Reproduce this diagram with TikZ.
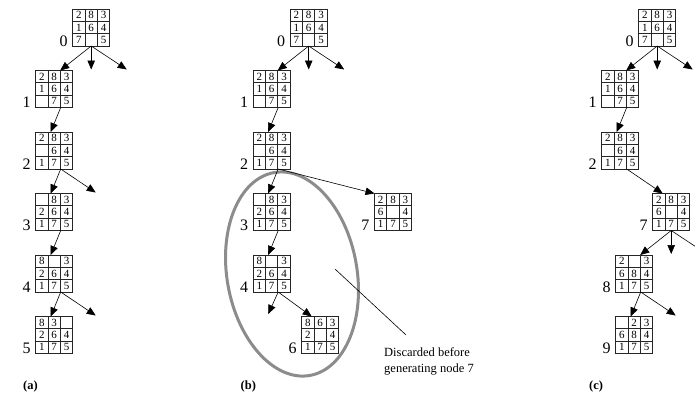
\documentclass[tikz,border=0pt]{standalone}
\usepackage{fontspec}
\setmainfont{Liberation Serif}
\usetikzlibrary{arrows.meta,calc}
\tikzset{
  puz/.style={draw=black!85, line width=0.8pt, minimum width=37pt, minimum height=37pt,
    inner sep=0pt, outer sep=0pt, anchor=north west},
  gridln/.style={draw=black!85, line width=0.8pt},
  cellnum/.style={font=\fontsize{11}{12}\selectfont, inner sep=0pt},
  lab/.style={font=\fontsize{16}{18}\selectfont, inner sep=0pt, anchor=base east},
  arr/.style={line width=0.6pt, -{Triangle[length=9pt,width=7.5pt]}},
  sublab/.style={font=\bfseries\fontsize{12.5}{14}\selectfont, inner sep=0pt, anchor=base west},
  disctext/.style={font=\fontsize{12.5}{14}\selectfont, inner sep=0pt, anchor=base west},
  discell/.style={draw=black!45, line width=3pt},
  pointer/.style={line width=0.6pt}
}
% #1 name, #2 left, #3 top, #4 cell list, #5 label
\newcommand\puzzle[5]{%
  \node[puz] (#1) at (#2,#3) {};
  \draw[gridln] ($(#1.north west)+(12.333,0)$) -- ($(#1.south west)+(12.333,0)$);
  \draw[gridln] ($(#1.north west)+(24.667,0)$) -- ($(#1.south west)+(24.667,0)$);
  \draw[gridln] ($(#1.north west)+(0,12.333)$) -- ($(#1.north east)+(0,12.333)$);
  \draw[gridln] ($(#1.north west)+(0,24.667)$) -- ($(#1.north east)+(0,24.667)$);
  \foreach \v [count=\i from 0] in {#4} {
    \pgfmathtruncatemacro\prow{\i/3}
    \pgfmathtruncatemacro\pcol{mod(\i,3)}
    \node[cellnum] (#1-\i) at ($(#1.north west)+(6.1667+12.333*\pcol,6.1667+12.333*\prow)$) {\v};
  }
  \node[lab] (#1-lab) at ($(#1.south west)+(-5,0)$) {#5};
}
% down-left connector from parent to child
\newcommand\dleft[2]{\draw[arr] ($(#1.south west)+(25,0)$) -- ($(#2.north west)+(15,0)$);}
\begin{document}
\begin{tikzpicture}[x=1pt,y=1pt,yscale=-1]
\useasboundingbox (0,0) rectangle (695,407);
\clip (0,0) rectangle (695,407);

% ---------------- (a)
\puzzle{n0a}{72.7}{9}{2,8,3,1,6,4,7,{},5}{0}
\puzzle{n1a}{35.7}{70.5}{2,8,3,1,6,4,{},7,5}{1}
\puzzle{n2a}{35.7}{132}{2,8,3,{},6,4,1,7,5}{2}
\puzzle{n3a}{35.7}{193.5}{{},8,3,2,6,4,1,7,5}{3}
\puzzle{n4a}{35.7}{255}{8,{},3,2,6,4,1,7,5}{4}
\puzzle{n5a}{35.7}{316.5}{8,3,{},2,6,4,1,7,5}{5}
\coordinate (m0a) at ($(n0a.south)+(0,23.5)$);
\coordinate (r0a) at ($(n0a.south)+(35.5,23.5)$);
\draw[arr] (n0a.south) -- ($(n1a.north west)+(24.5,0)$);
\draw[arr] (n0a.south) -- (m0a);
\draw[arr] (n0a.south) -- (r0a);
\dleft{n1a}{n2a}
\dleft{n2a}{n3a}
\coordinate (r2a) at ($(n2a.south west)+(60,23.5)$);
\draw[arr] ($(n2a.south west)+(25,0)$) -- (r2a);
\dleft{n3a}{n4a}
\dleft{n4a}{n5a}
\coordinate (r4a) at ($(n4a.south west)+(60,23.5)$);
\draw[arr] ($(n4a.south west)+(25,0)$) -- (r4a);
\node[sublab] (suba) at (23,389) {(a)};

% ---------------- (b)
\begin{scope}[shift={(292,274)},rotate=-10]
  \draw[discell] (0,0) ellipse [x radius=65pt, y radius=103pt];
\end{scope}
\puzzle{n0b}{290.2}{9}{2,8,3,1,6,4,7,{},5}{0}
\puzzle{n1b}{253.2}{70.5}{2,8,3,1,6,4,{},7,5}{1}
\puzzle{n2b}{253.2}{132}{2,8,3,{},6,4,1,7,5}{2}
\puzzle{n3b}{253.2}{193.5}{{},8,3,2,6,4,1,7,5}{3}
\puzzle{n4b}{253.2}{255}{8,{},3,2,6,4,1,7,5}{4}
\puzzle{n7b}{374.5}{193.5}{2,8,3,6,{},4,1,7,5}{7}
\puzzle{n6b}{301.7}{316.5}{8,6,3,2,{},4,1,7,5}{6}
\coordinate (m0b) at ($(n0b.south)+(0,23.5)$);
\coordinate (r0b) at ($(n0b.south)+(35.5,23.5)$);
\draw[arr] (n0b.south) -- ($(n1b.north west)+(24.5,0)$);
\draw[arr] (n0b.south) -- (m0b);
\draw[arr] (n0b.south) -- (r0b);
\dleft{n1b}{n2b}
\dleft{n2b}{n3b}
\draw[arr] ($(n2b.south west)+(25,0)$) -- (n7b.north west);
\dleft{n3b}{n4b}
\coordinate (l4b) at ($(n4b.south west)+(15,22)$);
\draw[arr] ($(n4b.south west)+(25,0)$) -- (l4b);
\draw[arr] ($(n4b.south west)+(25,0)$) -- ($(n6b.north west)+(10,0)$);
\node[disctext] (disc1) at (384,356) {Discarded before};
\node[disctext] (disc2) at (384,372) {generating node 7};
\coordinate (pin) at (335,269);
\coordinate (pout) at (406,335);
\draw[pointer] (pin) -- (pout);
\node[sublab] (subb) at (240.5,389) {(b)};

% ---------------- (c)
\puzzle{n0c}{638.7}{9}{2,8,3,1,6,4,7,{},5}{0}
\puzzle{n1c}{601.7}{70.5}{2,8,3,1,6,4,{},7,5}{1}
\puzzle{n2c}{601.7}{132}{2,8,3,{},6,4,1,7,5}{2}
\puzzle{n7c}{652.7}{193.5}{2,8,3,6,{},4,1,7,5}{7}
\puzzle{n8c}{615.7}{255}{2,{},3,6,8,4,1,7,5}{8}
\puzzle{n9c}{615.7}{316.5}{{},2,3,6,8,4,1,7,5}{9}
\coordinate (m0c) at ($(n0c.south)+(0,23.5)$);
\coordinate (r0c) at ($(n0c.south)+(35.5,23.5)$);
\draw[arr] (n0c.south) -- ($(n1c.north west)+(24.5,0)$);
\draw[arr] (n0c.south) -- (m0c);
\draw[arr] (n0c.south) -- (r0c);
\dleft{n1c}{n2c}
\draw[arr] ($(n2c.south west)+(25,0)$) -- ($(n7c.north west)+(10,0)$);
\coordinate (m7c) at ($(n7c.south)+(0,23.5)$);
\coordinate (r7c) at ($(n7c.south)+(35.5,23.5)$);
\draw[arr] (n7c.south) -- ($(n8c.north west)+(24.5,0)$);
\draw[arr] (n7c.south) -- (m7c);
\draw[arr] (n7c.south) -- (r7c);
\dleft{n8c}{n9c}
\coordinate (r8c) at ($(n8c.south west)+(60,23.5)$);
\draw[arr] ($(n8c.south west)+(25,0)$) -- (r8c);
\node[sublab] (subc) at (589,389) {(c)};
\end{tikzpicture}
\end{document}
